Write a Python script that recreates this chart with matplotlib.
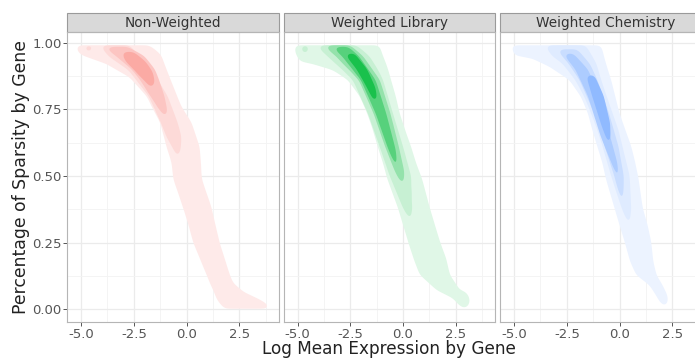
import numpy as np
import matplotlib
matplotlib.use("Agg")
import matplotlib.pyplot as plt
from matplotlib.patches import Rectangle

# ── data: 2-D density contour bands ─────────────────────────────────────────
# each band = list of (sparsity, left log-mean, right log-mean) knots
FACETS = ["Non-Weighted", "Weighted Library", "Weighted Chemistry"]
FILL_COLORS = ["#F8766D", "#00BA38", "#619CFF"]

NW_L1 = [(0.99, -5.24, -1.76), (0.97, -5.2, -1.43), (0.954, -5.0, -1.2),
         (0.92, -3.8, -1.05), (0.87, -2.7, -0.8), (0.80, -1.9, -0.45),
         (0.76, -1.65, -0.24), (0.70, -1.25, 0.24), (0.61, -0.95, 0.62),
         (0.55, -0.71, 0.68), (0.49, -0.63, 0.72), (0.38, -0.16, 1.19),
         (0.32, 0.08, 1.36), (0.25, 0.32, 1.57), (0.13, 0.95, 2.05),
         (0.10, 1.1, 2.2), (0.066, 1.3, 2.7), (0.04, 1.42, 3.4),
         (0.02, 1.6, 3.85), (0.003, 1.8, 4.0)]
NW_L2 = [(0.99, -4.14, -2.7), (0.947, -3.67, -2.2), (0.897, -2.75, -1.65),
         (0.80, -1.8, -0.9), (0.70, -1.22, -0.42), (0.647, -0.95, -0.24),
         (0.60, -0.62, -0.28), (0.565, -0.42, -0.38)]
NW_L2B = [(0.99, -4.85, -4.4), (0.965, -4.8, -4.5)]
NW_L3 = [(0.985, -3.95, -2.8), (0.95, -3.35, -2.0), (0.90, -2.6, -1.5),
         (0.86, -2.2, -1.3), (0.80, -1.72, -1.05), (0.75, -1.3, -0.92),
         (0.72, -1.02, -0.92)]
NW_L4 = [(0.965, -3.1, -2.5), (0.93, -2.9, -1.95), (0.89, -2.4, -1.6),
         (0.85, -1.9, -1.5), (0.83, -1.7, -1.6)]

WL_L1 = [(0.99, -5.16, -1.11), (0.96, -5.1, -1.0), (0.93, -4.9, -0.85),
         (0.92, -4.29, -0.8), (0.897, -3.33, -0.7), (0.86, -2.62, -0.57),
         (0.80, -2.06, -0.35), (0.735, -1.7, -0.16), (0.672, -1.43, 0.1),
         (0.61, -1.2, 0.38), (0.548, -0.95, 0.62), (0.49, -0.75, 0.9),
         (0.38, -0.24, 1.27), (0.254, 0.24, 1.75), (0.19, 0.5, 2.05),
         (0.13, 0.79, 2.22), (0.072, 1.6, 2.7), (0.066, 1.75, 3.0),
         (0.041, 2.38, 3.17), (0.02, 2.6, 3.15), (0.004, 2.86, 3.0)]
WL_L2 = [(0.99, -4.14, -2.2), (0.95, -3.6, -1.6), (0.90, -2.9, -1.2),
         (0.86, -2.38, -0.95), (0.735, -1.67, -0.48), (0.61, -1.11, 0.0),
         (0.50, -0.63, 0.38), (0.38, 0.0, 0.43), (0.33, 0.35, 0.4)]
WL_L2B = [(0.99, -4.85, -4.45), (0.96, -4.8, -4.5)]
WL_L3 = [(0.99, -3.8, -2.5), (0.95, -3.2, -1.9), (0.86, -2.1, -1.1),
         (0.735, -1.4, -0.6), (0.61, -0.85, -0.2), (0.52, -0.4, 0.05),
         (0.466, -0.05, 0.05)]
WL_L4 = [(0.985, -3.4, -2.6), (0.95, -2.9, -2.1), (0.86, -2.0, -1.3),
         (0.735, -1.3, -0.8), (0.60, -0.7, -0.35), (0.522, -0.3, -0.2)]
WL_L5 = [(0.96, -2.8, -2.3), (0.90, -2.2, -1.7), (0.83, -1.7, -1.3),
         (0.78, -1.4, -1.2)]

WC_L1 = [(0.99, -5.16, -0.87), (0.953, -5.0, -0.75), (0.94, -4.14, -0.71),
         (0.91, -3.33, -0.6), (0.86, -2.38, -0.4), (0.797, -1.83, -0.2),
         (0.735, -1.5, 0.0), (0.672, -1.29, 0.28), (0.61, -1.05, 0.56),
         (0.548, -0.81, 0.75), (0.49, -0.65, 0.9), (0.38, -0.24, 1.1),
         (0.316, 0.0, 1.33), (0.254, 0.24, 1.5), (0.18, 0.5, 1.6),
         (0.129, 0.79, 1.75), (0.09, 1.43, 2.05), (0.05, 1.75, 2.29),
         (0.029, 1.9, 2.3), (0.01, 2.14, 2.2)]
WC_L2 = [(0.99, -3.57, -1.6), (0.95, -3.2, -1.3), (0.922, -2.71, -1.1),
         (0.86, -2.1, -0.87), (0.797, -1.67, -0.6), (0.735, -1.35, -0.33),
         (0.672, -1.05, -0.05), (0.61, -0.8, 0.14), (0.50, -0.4, 0.48),
         (0.38, 0.1, 0.55), (0.31, 0.45, 0.5)]
WC_L3 = [(0.975, -3.0, -2.0), (0.92, -2.4, -1.4), (0.86, -1.9, -1.05),
         (0.735, -1.2, -0.5), (0.61, -0.7, -0.05), (0.50, -0.25, 0.2),
         (0.403, 0.08, 0.2)]
WC_L4 = [(0.96, -2.7, -2.2), (0.90, -2.1, -1.5), (0.80, -1.5, -0.95),
         (0.65, -0.9, -0.45), (0.55, -0.4, -0.1), (0.478, -0.05, 0.05)]
WC_L5 = [(0.88, -1.6, -1.2), (0.80, -1.3, -0.75), (0.70, -0.9, -0.45),
         (0.62, -0.55, -0.4)]

# bands in drawing order, with their level (0 = outermost)
NW_BANDS = [(NW_L1, 0), (NW_L2, 1), (NW_L2B, 1), (NW_L3, 2), (NW_L4, 3)]
WL_BANDS = [(WL_L1, 0), (WL_L2, 1), (WL_L2B, 1), (WL_L3, 2), (WL_L4, 3), (WL_L5, 4)]
WC_BANDS = [(WC_L1, 0), (WC_L2, 1), (WC_L3, 2), (WC_L4, 3), (WC_L5, 4)]

# cumulative opacity of each level (ggplot alpha by level)
NW_SHADE = [0.15, 0.27, 0.42, 0.62]
WL_SHADE = [0.12, 0.22, 0.42, 0.66, 0.9]
WC_SHADE = [0.12, 0.2, 0.34, 0.52, 0.7]

X_TICKS = [-5.0, -2.5, 0.0, 2.5]
X_TICK_LABELS = ["-5.0", "-2.5", "0.0", "2.5"]
Y_TICKS = [0.0, 0.25, 0.5, 0.75, 1.0]
Y_TICK_LABELS = ["0.00", "0.25", "0.50", "0.75", "1.00"]
XLIM = (-5.67, 4.36)
YLIM = (-0.047, 1.04)

# ── helpers ───────────────────────────────────────────────────────────────────
def band_mask(X, Y, band):
    b = np.array(sorted(band))
    ys, lo, hi = b[:, 0], b[:, 1], b[:, 2]
    L = np.interp(Y, ys, lo)
    R = np.interp(Y, ys, hi)
    return ((Y >= ys[0]) & (Y <= ys[-1]) & (X >= L) & (X <= R)).astype(float)

def smooth(a, sigma):
    r = int(3 * sigma)
    k = np.exp(-0.5 * (np.arange(-r, r + 1) / sigma) ** 2)
    k /= k.sum()
    a = np.apply_along_axis(lambda v: np.convolve(v, k, mode="same"), 0, a)
    a = np.apply_along_axis(lambda v: np.convolve(v, k, mode="same"), 1, a)
    return a

def shade(hex_col, c):
    rgb = np.array(matplotlib.colors.to_rgb(hex_col))
    return tuple(1 - c + c * rgb)

# ── figure ────────────────────────────────────────────────────────────────────
W, H = 695, 358
fig = plt.figure(figsize=(W / 100, H / 100), dpi=100)
plt.rcParams["font.family"] = "DejaVu Sans"

panel_left = [67, 283.5, 500]
pw, top, bot = 211.5, 32, 322
strip_h = 19

xs = np.linspace(*XLIM, 424)
ys = np.linspace(*YLIM, 580)
X, Y = np.meshgrid(xs, ys)

all_bands = [NW_BANDS, WL_BANDS, WC_BANDS]
all_shades = [NW_SHADE, WL_SHADE, WC_SHADE]

for i, name in enumerate(FACETS):
    ax = fig.add_axes([panel_left[i] / W, (H - bot) / H, pw / W, (bot - top) / H])
    ax.set_xlim(*XLIM)
    ax.set_ylim(*YLIM)
    ax.set_axisbelow(True)

    for band, lev in all_bands[i]:
        z = smooth(band_mask(X, Y, band), 6)
        ax.contourf(X, Y, z, levels=[0.5, 2.0],
                    colors=[shade(FILL_COLORS[i], all_shades[i][lev])],
                    antialiased=True)

    # grid
    ax.set_xticks(X_TICKS)
    ax.set_xticks([-3.75, -1.25, 1.25, 3.75], minor=True)
    ax.set_yticks(Y_TICKS)
    ax.set_yticks([0.125, 0.375, 0.625, 0.875], minor=True)
    ax.grid(which="major", color="#EBEBEB", lw=0.9)
    ax.grid(which="minor", color="#F3F3F3", lw=0.6)
    ax.tick_params(which="minor", length=0)
    ax.tick_params(which="major", length=3, width=0.7, color="#555555",
                   labelsize=9.5, labelcolor="#555555", pad=1)
    ax.set_xticklabels(X_TICK_LABELS)
    if i == 0:
        ax.set_yticklabels(Y_TICK_LABELS)
    else:
        ax.tick_params(axis="y", which="major", length=0, labelleft=False)

    for sp in ax.spines.values():
        sp.set_color("#B5B5B5")
        sp.set_linewidth(0.8)

    # facet strip
    sh = strip_h / (bot - top)
    ax.add_patch(Rectangle((0, 1), 1, sh, transform=ax.transAxes, clip_on=False,
                           facecolor="#D9D9D9", edgecolor="#9A9A9A", lw=0.8))
    ax.text(0.5, 1 + sh / 2, name, transform=ax.transAxes, ha="center",
            va="center", fontsize=9.8, color="#333333")

# axis titles (centred on the full panel area)
fig.text((67 + 711.5) / 2 / W, 1 - 354.5 / H, "Log Mean Expression by Gene",
         ha="center", va="baseline", fontsize=12.2, color="#222222")
fig.text(21 / W, 1 - (top + bot) / 2 / H, "Percentage of Sparsity by Gene",
         ha="center", va="center", rotation=90, fontsize=12.4, color="#222222")

plt.savefig("out.png", dpi=100)
